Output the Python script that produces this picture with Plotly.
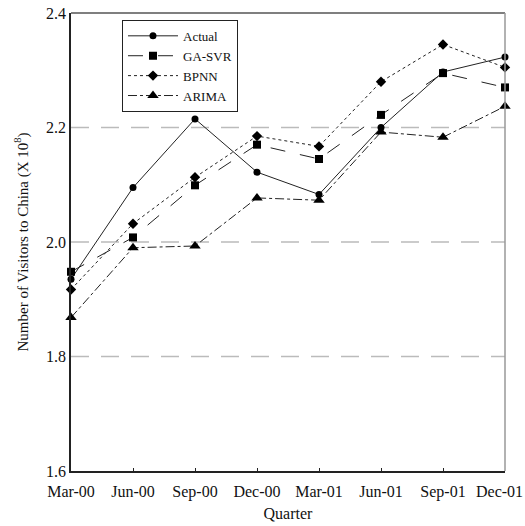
import plotly.graph_objects as go

quarters = ["Mar-00", "Jun-00", "Sep-00", "Dec-00", "Mar-01", "Jun-01", "Sep-01", "Dec-01"]
actual = [1.935, 2.095, 2.215, 2.122, 2.083, 2.200, 2.297, 2.323]
ga_svr = [1.948, 2.008, 2.099, 2.170, 2.145, 2.222, 2.295, 2.270]
bpnn = [1.917, 2.032, 2.113, 2.185, 2.167, 2.280, 2.345, 2.305]
arima = [1.868, 1.990, 1.993, 2.077, 2.073, 2.192, 2.183, 2.237]
y_ticks = [1.6, 1.8, 2.0, 2.2, 2.4]

x = list(range(len(quarters)))
font = "Liberation Serif, Times New Roman, serif"

fig = go.Figure()
series = [
    ("Actual", actual, "solid", "circle", 7),
    ("GA-SVR", ga_svr, "longdash", "square", 8),
    ("BPNN", bpnn, "dot", "diamond", 8),
    ("ARIMA", arima, "dashdot", "triangle-up", 10),
]
for name, vals, dash, sym, sz in series:
    fig.add_trace(go.Scatter(
        x=x, y=vals, name=name, mode="lines+markers",
        line=dict(color="#222", width=1, dash=dash),
        marker=dict(symbol=sym, size=sz, color="#000"),
        cliponaxis=False,
    ))

for g in [1.8, 2.0, 2.2]:
    fig.add_shape(type="line", xref="paper", x0=0, x1=1, yref="y", y0=g, y1=g,
                  line=dict(color="#bbbbbb", width=1.5, dash="18px,12px"), layer="below")

# top and right border
fig.add_shape(type="line", xref="paper", yref="paper", x0=0, x1=1, y0=1, y1=1,
              line=dict(color="#555", width=1.5))
fig.add_shape(type="line", xref="paper", yref="paper", x0=1, x1=1, y0=0, y1=1,
              line=dict(color="#999", width=1.5))

# last category label shifted left to stay inside the page (as in the reference)
tick_text = quarters[:-1] + [""]
fig.add_annotation(x=x[-1], xref="x", y=0, yref="paper", text=quarters[-1],
                   showarrow=False, xanchor="center", yanchor="top",
                   xshift=-6, yshift=-10, font=dict(size=16, family=font, color="#111"))

fig.update_layout(
    width=525, height=526,
    margin=dict(l=71, r=20, t=13, b=55),
    plot_bgcolor="white", paper_bgcolor="white",
    font=dict(family=font, size=16, color="#111"),
    showlegend=True,
    legend=dict(x=0.1175, y=0.985, xanchor="left", yanchor="top",
                bordercolor="#222", borderwidth=1, bgcolor="white",
                font=dict(size=13, family=font), tracegroupgap=0,
                itemwidth=50),
    xaxis=dict(range=[0, 7], tickvals=x, ticktext=tick_text, showgrid=False,
               showline=True, linecolor="#222", linewidth=1.5,
               ticks="inside", ticklen=3, tickcolor="#222", zeroline=False,
               automargin=False, ticklabelstandoff=5,
               title=dict(text="Quarter", font=dict(size=16), standoff=8)),
    yaxis=dict(range=[1.6, 2.4], tickvals=y_ticks,
               ticktext=["1.6", "1.8", "2.0", "2.2", "2.4"], showgrid=False,
               showline=True, linecolor="#222", linewidth=1.5, ticks="",
               zeroline=False, automargin=False,
               title=dict(text="Number of Visitors to China (X 10<sup>8</sup>)",
                          font=dict(size=15), standoff=14)),
)

fig.write_html("out.html")
